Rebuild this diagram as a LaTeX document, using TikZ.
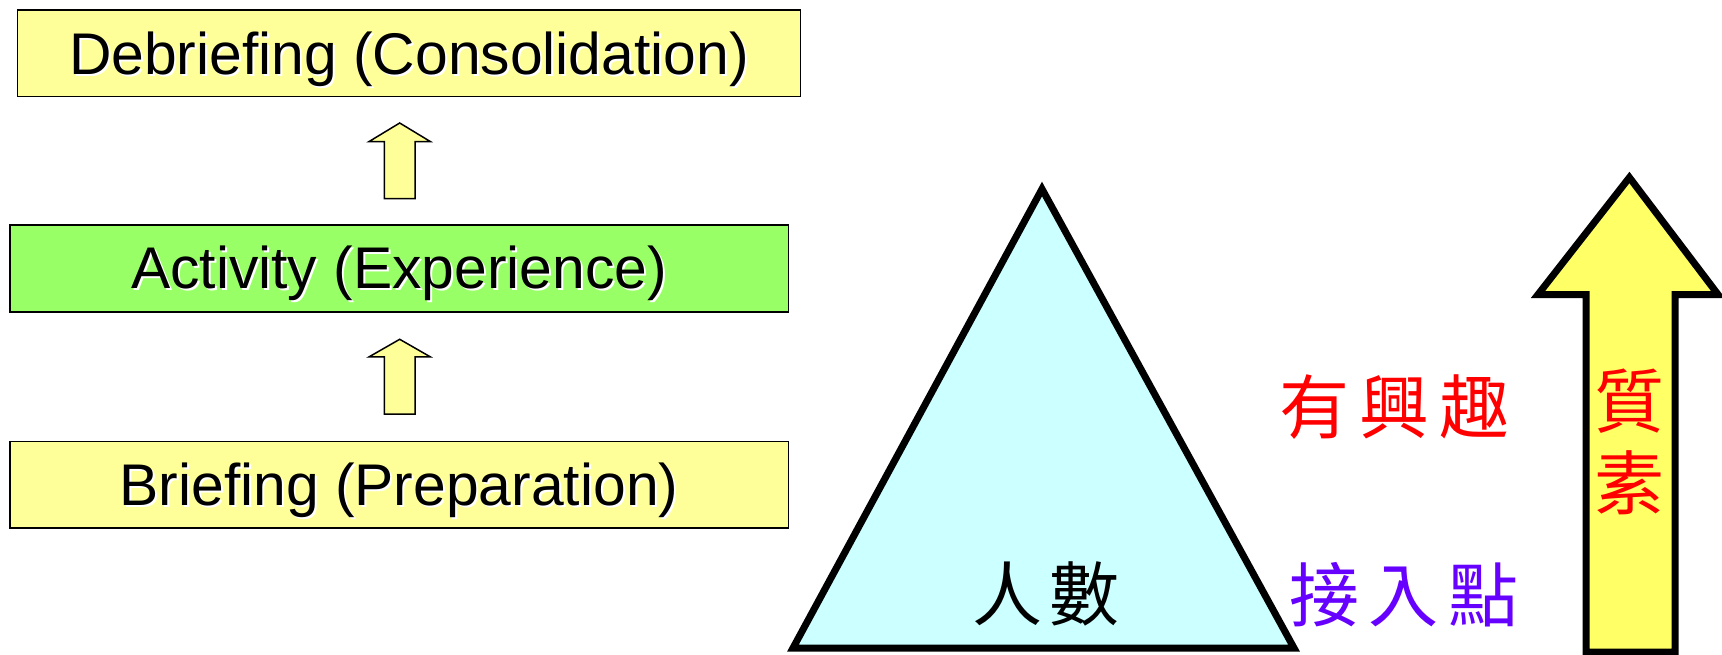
\documentclass[tikz,border=0pt]{standalone}
\usepackage{fontspec}
\setmainfont{Liberation Sans}
\newfontfamily\cjk{Noto Sans CJK TC}
\definecolor{paleyellow}{HTML}{FFFF99}
\definecolor{palegreen}{HTML}{99FF66}
\definecolor{palecyan}{HTML}{CCFFFF}
\definecolor{brightyellow}{HTML}{FFFF66}
\definecolor{violet}{HTML}{6600FF}
\begin{document}
\begin{tikzpicture}[x=1pt,y=-1pt,
  stagebox/.style={draw=black, line width=1.5pt, minimum height=86.7pt, inner sep=0pt},
  stagetext/.style={font=\fontsize{58.8}{60}\selectfont, text=black, inner sep=0pt},
  shadowtext/.style={font=\fontsize{58.8}{60}\selectfont, text=white, inner sep=0pt},
  smallarrow/.style={draw=black, line width=1.5pt, fill=paleyellow, line join=miter},
  bigshape/.style={draw=black, line width=7pt, line join=miter, miter limit=20},
  cjktext/.style={font=\cjk\fontsize{70}{72}\selectfont, inner sep=0pt}
]
\useasboundingbox (0,0) rectangle (1722,655);

% stage boxes
\node[stagebox, fill=paleyellow, minimum width=783pt] (deb) at (409,53.3) {};
\node[stagebox, fill=palegreen, minimum width=778.5pt] (act) at (399,268.4) {};
\node[stagebox, fill=paleyellow, minimum width=778.5pt] (bri) at (399,484.8) {};

% texts with white shadow
\node[shadowtext] (debs) at ([shift={(2,8)}]deb.center) {Debriefing (Consolidation)};
\node[stagetext] (debt) at ([shift={(0,6)}]deb.center) {Debriefing (Consolidation)};
\node[shadowtext] (acts) at ([shift={(2,7)}]act.center) {Activity (Experience)};
\node[stagetext] (actt) at ([shift={(0,5)}]act.center) {Activity (Experience)};
\node[shadowtext] (bris) at ([shift={(2,7.5)}]bri.center) {Briefing (Preparation)};
\node[stagetext] (brit) at ([shift={(0,5.5)}]bri.center) {Briefing (Preparation)};

% small block arrows
\draw[smallarrow] (384.3,198.7) -- (384.3,141.6) -- (369,141.6) -- (399.7,123) -- (430.4,141.6) -- (415,141.6) -- (415,198.7) -- cycle;
\draw[smallarrow] (384.3,414) -- (384.3,356.9) -- (369,356.9) -- (399.7,339.3) -- (430.4,356.9) -- (415,356.9) -- (415,414) -- cycle;

% triangle
\draw[bigshape, fill=palecyan] (1042,189) -- (1294,648) -- (793,648) -- cycle;
\node[cjktext, text=black] (people) at (1046,594) {人\hspace{8pt}數};

% big arrow
\draw[bigshape, fill=brightyellow] (1586,652) -- (1586,294.5) -- (1538,294.5) -- (1629.4,177.5) -- (1718,294.5) -- (1675,294.5) -- (1675,652) -- cycle;
\node[cjktext, text=red] (zhi) at (1629,401) {質};
\node[cjktext, text=red] (su) at (1629,483) {素};

% side labels
\node[cjktext, text=red] (interest) at (1394.5,407) {有\hspace{10pt}興\hspace{10pt}趣};
\node[cjktext, text=violet] (entry) at (1404,595) {接\hspace{10pt}入\hspace{10pt}點};
\end{tikzpicture}
\end{document}
